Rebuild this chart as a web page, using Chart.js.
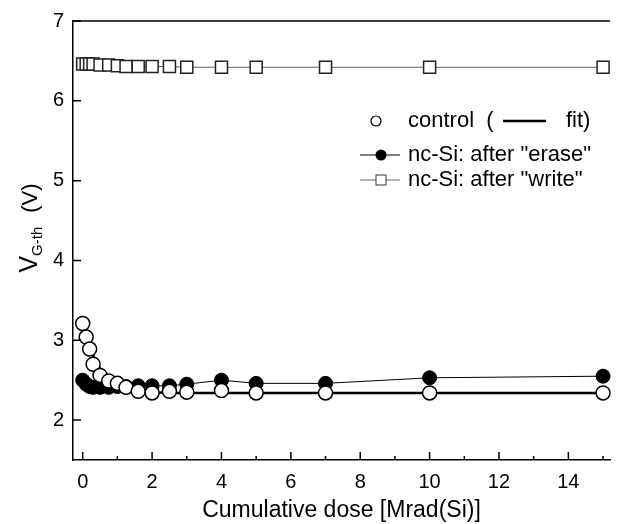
<!DOCTYPE html>
<html>
<head>
	<meta charset="utf-8">
	<title>VG-th vs cumulative dose</title>
	<script src="https://cdn.jsdelivr.net/npm/chart.js"></script>
	<style>
		html, body {
			margin: 0;
			padding: 0;
			background: #fff;
			overflow: hidden;
		}

		#wrap {
			width: 620px;
			height: 524px;
		}
	</style>
</head>

<body>
	<div id="wrap">
		<canvas id="myChart" width="620" height="524"></canvas>
	</div>

	<script>
		// data
		const doseControl = [0, 0.1, 0.2, 0.3, 0.5, 0.75, 1, 1.25, 1.6, 2, 2.5, 3, 4, 5, 7, 10, 15];
		const vControl = [3.21, 3.04, 2.89, 2.70, 2.56, 2.49, 2.46, 2.41, 2.36, 2.34, 2.36, 2.35, 2.37, 2.34, 2.34, 2.34, 2.34];

		const doseErase = [0, 0.1, 0.2, 0.3, 0.5, 0.75, 1, 1.25, 1.6, 2, 2.5, 3, 4, 5, 7, 10, 15];
		const vErase = [2.50, 2.45, 2.42, 2.41, 2.41, 2.41, 2.42, 2.42, 2.43, 2.43, 2.43, 2.45, 2.50, 2.46, 2.46, 2.53, 2.55];

		const doseWrite = [0, 0.1, 0.2, 0.3, 0.5, 0.75, 1, 1.25, 1.6, 2, 2.5, 3, 4, 5, 7, 10, 15];
		const vWrite = [6.46, 6.46, 6.46, 6.46, 6.45, 6.45, 6.44, 6.43, 6.43, 6.43, 6.43, 6.42, 6.42, 6.42, 6.42, 6.42, 6.42];

		const doseFit = [0, 0.2, 0.4, 0.6, 0.8, 1, 1.3, 1.6, 2, 3, 15];
		const vFit = [3.20, 2.92, 2.72, 2.59, 2.50, 2.45, 2.40, 2.37, 2.35, 2.34, 2.34];

		const xMajorTicks = [0, 2, 4, 6, 8, 10, 12, 14];
		const xMinorTicks = [1, 3, 5, 7, 9, 11, 13, 15];
		const yTicks = [2, 3, 4, 5, 6, 7];

		const FONT = 'Arial, "Liberation Sans", sans-serif';

		function pts( xs, ys ) {
			return xs.map( ( x, i ) => ( { x: x, y: ys[ i ] } ) );
		}

		// inward ticks, top border, y title and legend
		const decor = {
			id: 'decor',
			afterDraw( chart ) {
				const ctx = chart.ctx;
				const a = chart.chartArea;
				const xs = chart.scales.x;
				const ys = chart.scales.y;

				ctx.save();
				ctx.strokeStyle = '#000';
				ctx.lineWidth = 1.5;

				// top border
				ctx.beginPath();
				ctx.moveTo( a.left, a.top );
				ctx.lineTo( a.right, a.top );
				ctx.stroke();

				ctx.beginPath();
				xMajorTicks.forEach( v => {
					const px = xs.getPixelForValue( v );
					ctx.moveTo( px, a.bottom );
					ctx.lineTo( px, a.bottom - 8 );
				});
				xMinorTicks.forEach( v => {
					const px = xs.getPixelForValue( v );
					ctx.moveTo( px, a.bottom );
					ctx.lineTo( px, a.bottom - 4 );
				});
				yTicks.forEach( v => {
					const py = ys.getPixelForValue( v );
					ctx.moveTo( a.left, py );
					ctx.lineTo( a.left + 8, py );
				});
				ctx.stroke();

				// y title: V with subscript
				ctx.fillStyle = '#000';
				ctx.translate( 37, 228 );
				ctx.rotate( -Math.PI / 2 );
				ctx.textBaseline = 'alphabetic';
				ctx.textAlign = 'left';
				ctx.font = '25px ' + FONT;
				const w0 = ctx.measureText( 'V' ).width;
				ctx.font = '15px ' + FONT;
				const wSub = ctx.measureText( 'G-th' ).width;
				ctx.font = '22px ' + FONT;
				const w2 = ctx.measureText( '(V)' ).width;
				const total = w0 + wSub + 14 + w2;
				let cx = -total / 2;
				ctx.font = '25px ' + FONT;
				ctx.fillText( 'V', cx, 0 );
				cx += w0;
				ctx.font = '15px ' + FONT;
				ctx.fillText( 'G-th', cx, 5 );
				cx += wSub + 14;
				ctx.font = '22px ' + FONT;
				ctx.fillText( '(V)', cx, 0 );
				ctx.restore();

				// legend
				ctx.save();
				ctx.font = '22px ' + FONT;
				ctx.fillStyle = '#000';
				ctx.textBaseline = 'middle';
				ctx.textAlign = 'left';

				const tx = 408;
				const rows = [ 121, 155, 180 ];

				// control
				ctx.lineWidth = 1.2;
				ctx.strokeStyle = '#000';
				ctx.beginPath();
				ctx.arc( 376, rows[ 0 ], 5, 0, Math.PI * 2 );
				ctx.stroke();
				ctx.fillText( 'control  (', tx, rows[ 0 ] );
				ctx.lineWidth = 2.5;
				ctx.beginPath();
				ctx.moveTo( 503, rows[ 0 ] );
				ctx.lineTo( 546, rows[ 0 ] );
				ctx.stroke();
				ctx.fillText( 'fit)', 566, rows[ 0 ] );

				// erase
				ctx.lineWidth = 1;
				ctx.beginPath();
				ctx.moveTo( 360, rows[ 1 ] );
				ctx.lineTo( 400, rows[ 1 ] );
				ctx.stroke();
				ctx.beginPath();
				ctx.arc( 381, rows[ 1 ], 5.5, 0, Math.PI * 2 );
				ctx.fill();
				ctx.fillText( 'nc-Si: after "erase"', tx, rows[ 1 ] );

				// write
				ctx.strokeStyle = '#666';
				ctx.beginPath();
				ctx.moveTo( 360, rows[ 2 ] );
				ctx.lineTo( 400, rows[ 2 ] );
				ctx.stroke();
				ctx.fillStyle = '#fff';
				ctx.fillRect( 376, rows[ 2 ] - 5, 10, 10 );
				ctx.strokeStyle = '#333';
				ctx.strokeRect( 376, rows[ 2 ] - 5, 10, 10 );
				ctx.fillStyle = '#000';
				ctx.fillText( 'nc-Si: after "write"', tx, rows[ 2 ] );
				ctx.restore();
			}
		};

		const ctx = document.getElementById( 'myChart' );

		new Chart( ctx, {
			type: 'scatter',
			data: {
				datasets: [
					{
						label: 'control',
						data: pts( doseControl, vControl ),
						showLine: false,
						pointStyle: 'circle',
						pointRadius: 7,
						pointBackgroundColor: '#fff',
						pointBorderColor: '#000',
						pointBorderWidth: 1.5,
						order: 0
					},
					{
						label: 'fit',
						data: pts( doseFit, vFit ),
						showLine: true,
						cubicInterpolationMode: 'monotone',
						borderColor: '#000',
						borderWidth: 2.5,
						pointRadius: 0,
						order: 1
					},
					{
						label: 'nc-Si: after "erase"',
						data: pts( doseErase, vErase ),
						showLine: true,
						borderColor: '#000',
						borderWidth: 1,
						pointStyle: 'circle',
						pointRadius: 7,
						pointBackgroundColor: '#000',
						pointBorderColor: '#000',
						pointBorderWidth: 1,
						order: 2
					},
					{
						label: 'nc-Si: after "write"',
						data: pts( doseWrite, vWrite ),
						showLine: true,
						borderColor: '#666',
						borderWidth: 1,
						pointStyle: 'rect',
						pointRadius: 8.5,
						pointBackgroundColor: '#fff',
						pointBorderColor: '#222',
						pointBorderWidth: 1.5,
						order: 3
					}
				]
			},
			options: {
				responsive: false,
				animation: false,
				clip: false,
				layout: {
					padding: { top: 15, right: 0, left: 0, bottom: 0 }
				},
				plugins: {
					legend: { display: false },
					tooltip: { enabled: false }
				},
				scales: {
					x: {
						type: 'linear',
						min: -0.28,
						max: 15.2,
						afterFit( scale ) { scale.height = 64; },
						afterBuildTicks( scale ) {
							scale.ticks = xMajorTicks.map( v => ( { value: v } ) );
						},
						grid: { display: false, drawTicks: false },
						border: { display: true, color: '#000', width: 1.5 },
						ticks: {
							color: '#000',
							padding: 10,
							maxRotation: 0,
							autoSkip: false,
							font: { family: FONT, size: 20 }
						},
						title: {
							display: true,
							text: 'Cumulative dose [Mrad(Si)]',
							color: '#000',
							font: { family: FONT, size: 23 },
							padding: { top: 2, bottom: 0 }
						}
					},
					y: {
						type: 'linear',
						min: 1.5,
						max: 7,
						afterFit( scale ) { scale.width = 73; },
						afterBuildTicks( scale ) {
							scale.ticks = yTicks.map( v => ( { value: v } ) );
						},
						grid: { display: false, drawTicks: false },
						border: { display: true, color: '#000', width: 1.5 },
						ticks: {
							color: '#000',
							padding: 9,
							font: { family: FONT, size: 20 }
						}
					}
				}
			},
			plugins: [ decor ]
		});
	</script>
</body>
</html>
